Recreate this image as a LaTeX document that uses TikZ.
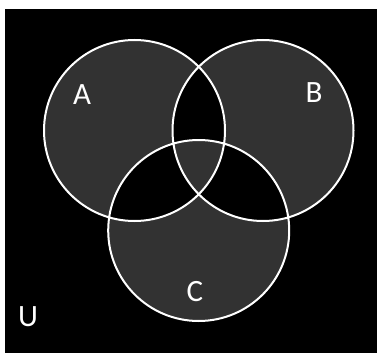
\documentclass[tikz,border=0pt]{standalone}
\usepackage{fontspec}
\setmainfont{Carlito}
\usepackage{tikz}
\definecolor{setgray}{RGB}{50,50,50}
\tikzset{
    % 集合圆的边线
    setline/.style={
        line width=2pt,
        white
    },
    % 标签
    setlabel/.style={
        white,
        font=\fontsize{31}{31}\selectfont
    }
}
\begin{document}
\begin{tikzpicture}[x=1pt,y=-1pt]
	\useasboundingbox (0,0) rectangle (377,353);
	\fill[white] (0,0) rectangle (377,353);
	\fill[black] (5,9) rectangle (377,353);
	
	\path
	(134.5,130.5) coordinate (cA)
	(263,130.5) coordinate (cB)
	(198.7,230.5) coordinate (cC);
	
	% 灰色区域
	\fill[setgray,even odd rule]
	(cA) circle[radius=90.5pt]
	(cB) circle[radius=90.5pt]
	(cC) circle[radius=90.5pt];
	
	% 白色圆
	\draw[setline]
	(cA) circle[radius=90.5pt]
	(cB) circle[radius=90.5pt]
	(cC) circle[radius=90.5pt];
	
	% 文字标注
	\node[setlabel] (labA) at (82,95) {A};
	\node[setlabel] (labB) at (314,93) {B};
	\node[setlabel] (labC) at (195,292) {C};
	\node[setlabel] (labU) at (28,317) {U};
\end{tikzpicture}
\end{document}
